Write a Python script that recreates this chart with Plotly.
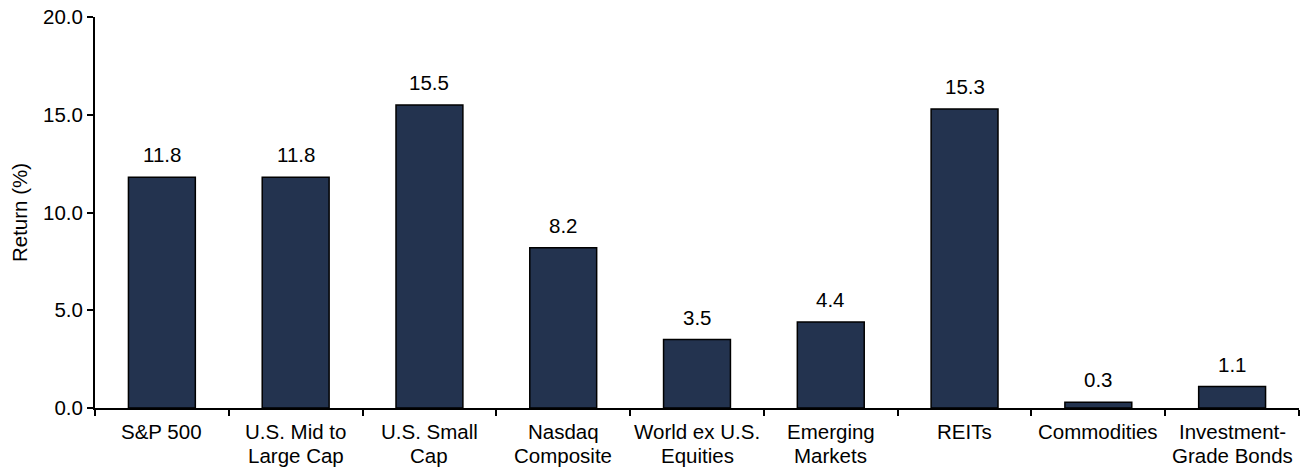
import plotly.graph_objects as go

# Category labels, one tuple of lines per category
label_lines = [
    ("S&P 500",),
    ("U.S. Mid to", "Large Cap"),
    ("U.S. Small", "Cap"),
    ("Nasdaq", "Composite"),
    ("World ex U.S.", "Equities"),
    ("Emerging", "Markets"),
    ("REITs",),
    ("Commodities",),
    ("Investment-", "Grade Bonds"),
]
returns = [11.8, 11.8, 15.5, 8.2, 3.5, 4.4, 15.3, 0.3, 1.1]
y_ticks = [0, 5, 10, 15, 20]

categories = [" ".join(lines) for lines in label_lines]

FONT = "Liberation Sans, Arial, sans-serif"
FS = 20.5
BAR_COLOR = "#23334f"

fig = go.Figure()
fig.add_trace(go.Bar(
    x=categories,
    y=returns,
    marker=dict(color=BAR_COLOR, line=dict(color="#000000", width=1.5)),
    hoverinfo="x+y",
))

annotations = []
# value labels above each bar
for cat, val in zip(categories, returns):
    annotations.append(dict(
        x=cat, y=val, xref="x", yref="y", text=f"{val:.1f}",
        showarrow=False, yanchor="bottom", yshift=9,
        font=dict(family=FONT, size=FS, color="#000000"),
    ))
# category labels below the axis, one annotation per line
line_offsets = [-23, -47]
for cat, lines in zip(categories, label_lines):
    for i, line in enumerate(lines):
        annotations.append(dict(
            x=cat, y=0, xref="x", yref="paper", text=line,
            showarrow=False, yanchor="middle", yshift=line_offsets[i],
            font=dict(family=FONT, size=FS, color="#000000"),
        ))

fig.update_layout(
    width=1304, height=468,
    margin=dict(l=95, r=5, t=17, b=60),
    paper_bgcolor="#ffffff", plot_bgcolor="#ffffff",
    font=dict(family=FONT, size=FS, color="#000000"),
    bargap=0.5,
    showlegend=False,
    annotations=annotations,
    xaxis=dict(
        type="category",
        showticklabels=False,
        showline=True, linecolor="#000000", linewidth=2,
        ticks="outside", tickson="boundaries", ticklen=6,
        tickcolor="#000000", tickwidth=1.5,
        showgrid=False, zeroline=False,
    ),
    yaxis=dict(
        range=[0, 20],
        tickvals=y_ticks,
        tickformat=".1f",
        showline=True, linecolor="#000000", linewidth=2,
        ticks="outside", ticklen=6, tickcolor="#000000", tickwidth=1.5,
        showgrid=False, zeroline=False,
        title=dict(text="Return (%)", font=dict(family=FONT, size=FS), standoff=10),
        tickfont=dict(family=FONT, size=FS),
    ),
)

fig.write_html("out.html")
